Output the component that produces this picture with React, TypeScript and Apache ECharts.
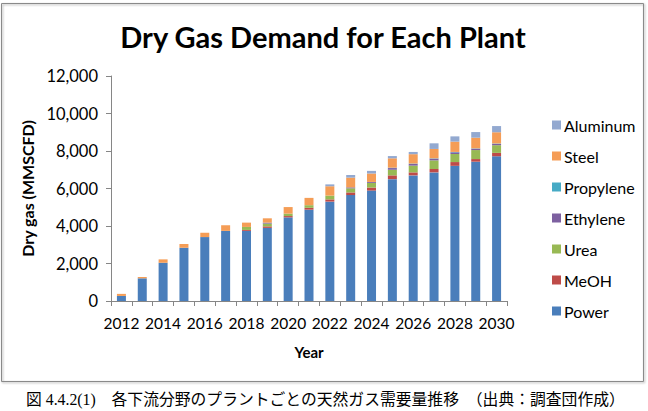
import React, { useEffect, useRef } from "react";
import * as echarts from "echarts";

// Years on the category axis
const years = [
  "2012", "2013", "2014", "2015", "2016", "2017", "2018", "2019", "2020", "2021",
  "2022", "2023", "2024", "2025", "2026", "2027", "2028", "2029", "2030",
];

// Dry gas demand by plant type (MMSCFD)
const power = [270, 1210, 2040, 2840, 3410, 3740, 3740, 3900, 4460, 4870, 5300, 5650, 5890, 6500, 6700, 6860, 7210, 7430, 7720];
const meoh = [0, 0, 0, 0, 0, 0, 50, 80, 70, 100, 120, 140, 160, 200, 160, 180, 200, 140, 180];
const urea = [0, 0, 0, 0, 0, 0, 160, 150, 130, 140, 200, 220, 250, 300, 360, 460, 430, 480, 410];
const ethylene = [0, 0, 0, 0, 0, 0, 0, 50, 0, 0, 0, 50, 50, 90, 90, 90, 90, 70, 70];
const propylene = [0, 0, 0, 0, 0, 0, 0, 0, 0, 0, 0, 0, 0, 20, 20, 20, 20, 20, 20];
const steel = [110, 70, 180, 200, 230, 300, 230, 230, 350, 390, 500, 520, 450, 500, 500, 500, 550, 570, 600];
const aluminum = [0, 0, 0, 0, 0, 0, 0, 0, 0, 0, 100, 140, 140, 120, 120, 300, 280, 300, 330];

const seriesNames = ["Power", "MeOH", "Urea", "Ethylene", "Propylene", "Steel", "Aluminum"];
const seriesData = [power, meoh, urea, ethylene, propylene, steel, aluminum];
const seriesColors = ["#4A7EBB", "#BE4B48", "#98B954", "#7D60A0", "#46AAC5", "#F59D56", "#93A9D0"];

const yTicks = [0, 2000, 4000, 6000, 8000, 10000, 12000];

const FONT = "Lato, 'Open Sans', sans-serif";

export default function App() {
  const ref = useRef<HTMLDivElement>(null);

  useEffect(() => {
    if (!ref.current) return;
    const chart = echarts.init(ref.current, null, { renderer: "svg" });

    const option: echarts.EChartsOption = {
      animation: false,
      backgroundColor: "#ffffff",
      title: {
        text: "Dry Gas Demand for Each Plant",
        left: 318,
        top: 17,
        textAlign: "center",
        textStyle: { fontFamily: FONT, fontSize: 29, fontWeight: "bold", color: "#000" },
      },
      legend: {
        orient: "vertical",
        left: 547,
        top: 112,
        itemWidth: 9,
        itemHeight: 9,
        itemGap: 15,
        icon: "rect",
        data: [...seriesNames].reverse(),
        textStyle: { fontFamily: FONT, fontSize: 16, color: "#000", padding: [0, 0, 0, -2] },
      },
      grid: { left: 111, top: 76, width: 396, height: 225 },
      xAxis: {
        type: "category",
        data: years,
        name: "Year",
        nameLocation: "middle",
        nameGap: 43,
        nameTextStyle: { fontFamily: FONT, fontSize: 15, fontWeight: "bold", color: "#000" },
        axisLine: { lineStyle: { color: "#868686" } },
        axisTick: { show: true, interval: 0, length: 5, lineStyle: { color: "#868686" } },
        axisLabel: { interval: 1, fontFamily: FONT, fontSize: 15.5, color: "#000", margin: 14 },
      },
      yAxis: {
        type: "value",
        min: 0,
        max: 12000,
        interval: 2000,
        name: "Dry gas (MMSCFD)",
        nameLocation: "middle",
        nameGap: 72,
        nameTextStyle: { fontFamily: FONT, fontSize: 16, fontWeight: "bold", color: "#000" },
        axisLine: { show: true, lineStyle: { color: "#868686" } },
        axisTick: { show: true, length: 5, lineStyle: { color: "#868686" } },
        splitLine: { show: false },
        axisLabel: {
          fontFamily: FONT,
          fontSize: 16.5,
          color: "#000",
          margin: 13,
          formatter: (v: number) => (yTicks.includes(v) ? v.toLocaleString("en-US") : ""),
        },
      },
      series: seriesNames.map((name, i) => ({
        name,
        type: "bar" as const,
        stack: "total",
        barWidth: 9,
        data: seriesData[i],
        itemStyle: { color: seriesColors[i] },
      })),
      graphic: [
        {
          type: "rect",
          shape: { x: 1.5, y: 3.5, width: 642, height: 378 },
          style: {
            fill: "none",
            stroke: "#8a8a8a",
            lineWidth: 1,
            shadowColor: "rgba(0,0,0,0.35)",
            shadowBlur: 2,
            shadowOffsetX: 1,
            shadowOffsetY: 1,
          },
          silent: true,
        },
        {
          type: "text",
          left: 26,
          top: 392,
          style: {
            text: "図 4.4.2(1)　各下流分野のプラントごとの天然ガス需要量推移　（出典：調査団作成）",
            fontFamily: "'Liberation Serif', 'Noto Sans CJK JP', serif",
            fontSize: 15.8,
            fill: "#000",
          },
          silent: true,
        },
      ],
    };

    chart.setOption(option);
    return () => chart.dispose();
  }, []);

  return (
    <div
      ref={ref}
      style={{ position: "fixed", left: 0, top: 0, width: 648, height: 411, background: "#fff" }}
    />
  );
}
